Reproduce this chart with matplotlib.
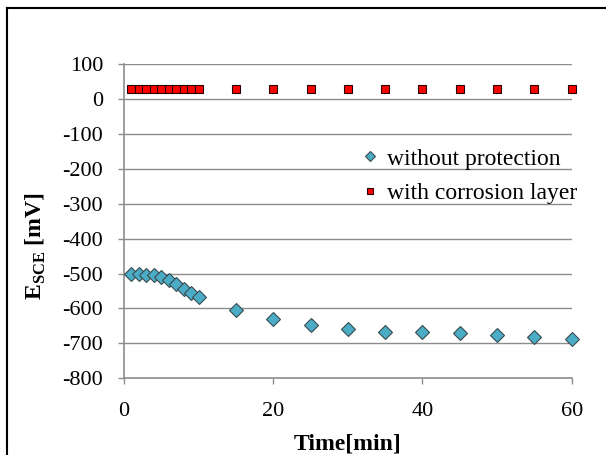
import matplotlib
matplotlib.use("Agg")
import matplotlib.pyplot as plt
from matplotlib.lines import Line2D

plt.rcParams['font.family'] = ['Liberation Serif', 'DejaVu Serif']
plt.rcParams['mathtext.fontset'] = 'custom'
plt.rcParams['mathtext.rm'] = 'Liberation Serif'
plt.rcParams['mathtext.bf'] = 'Liberation Serif:bold'
plt.rcParams['axes.unicode_minus'] = False

time_min = [1, 2, 3, 4, 5, 6, 7, 8, 9, 10, 15, 20, 25, 30, 35, 40, 45, 50, 55, 60]
without_protection = [-500, -500, -503, -503, -510, -519, -529, -544, -557, -567,
                      -605, -631, -648, -660, -667, -667, -670, -675, -682, -687]
with_corrosion_layer = [28, 28, 28, 28, 28, 28, 28, 28, 28, 28,
                        28, 28, 28, 28, 28, 28, 28, 28, 28, 28]
x_ticks = [0, 20, 40, 60]
y_ticks = [100, 0, -100, -200, -300, -400, -500, -600, -700, -800]

fig = plt.figure(figsize=(6.06, 4.55), dpi=100)
ax = fig.add_axes([124/606, 1-378.3/455, (571.7-124)/606, (378.3-64)/455])

grid_c = '#8c8c8c'
for v in y_ticks:
    if v != -800:
        ax.axhline(v, color=grid_c, lw=1.0, zorder=1)

ax.plot(time_min, without_protection, linestyle='none', marker='D', markersize=7,
        markerfacecolor='#4bacc6', markeredgecolor='#3c4a50', markeredgewidth=0.8,
        label='without protection', zorder=3, clip_on=False)
ax.plot(time_min, with_corrosion_layer, linestyle='none', marker='s', markersize=5.5,
        markerfacecolor='#ff0000', markeredgecolor='#2a0000', markeredgewidth=0.8,
        label='with corrosion layer', zorder=3, clip_on=False)

ax.set_xlim(0, 60)
ax.set_ylim(-800, 100)
ax.set_xticks(x_ticks)
ax.set_yticks(y_ticks)
for s in ['top', 'right']:
    ax.spines[s].set_visible(False)
for s in ['left', 'bottom']:
    ax.spines[s].set_color(grid_c)
    ax.spines[s].set_linewidth(1.2)
ax.tick_params(axis='both', direction='out', length=4, width=1.0, color=grid_c,
               labelsize=16)
ax.tick_params(axis='y', pad=11)
ax.tick_params(axis='x', pad=13)

ax.set_xlabel('Time[min]', fontsize=17, fontweight='bold', labelpad=9)
ax.set_ylabel(r'$\mathbf{E}_{\mathbf{SCE}}$ [mV]', fontsize=17, fontweight='bold')
ax.yaxis.set_label_coords(-0.17, 0.42)

ax.legend(loc='upper left', bbox_to_anchor=(0.508, 0.77), frameon=False,
          fontsize=17, handlelength=0.6, handletextpad=0.4, labelspacing=0.55,
          borderpad=0, markerscale=0.75)

x0 = 6.5/606
ytop = 1 - 8/455
fig.add_artist(Line2D([x0, x0], [0, ytop], color='black', lw=1.5))
fig.add_artist(Line2D([x0, 1], [ytop, ytop], color='black', lw=1.5))

fig.savefig('out.png', dpi=100)
